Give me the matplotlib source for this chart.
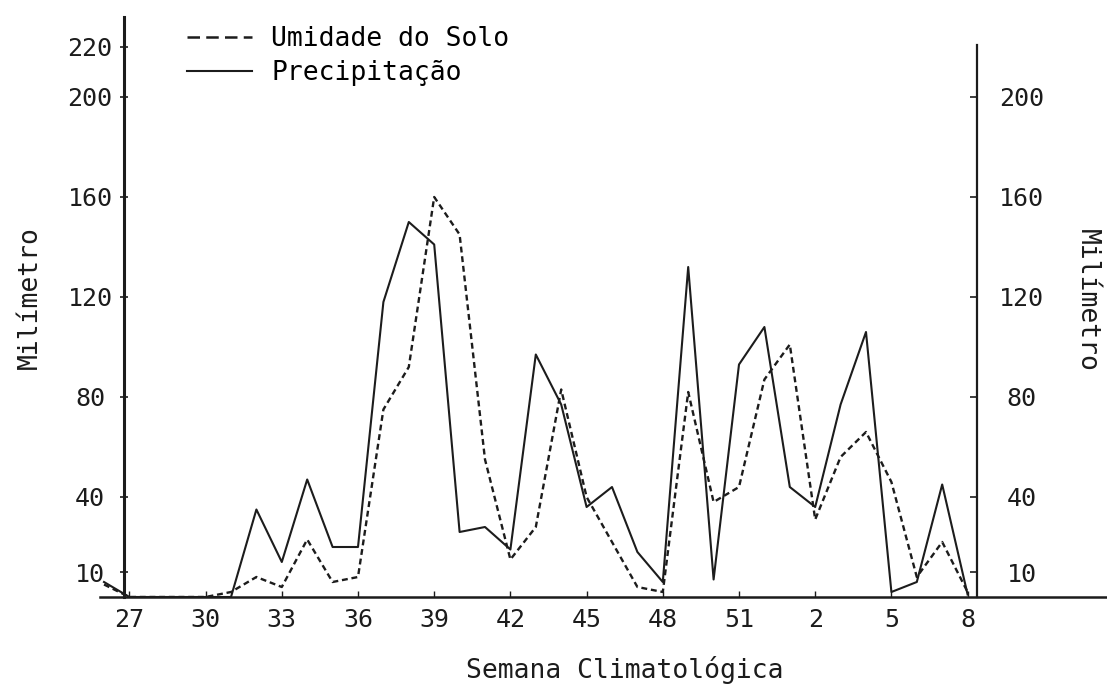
import matplotlib.pyplot as plt
from matplotlib.lines import Line2D

# semanas climatologicas (26 .. 52, depois 1 .. 8)
semanas = list(range(26, 53)) + list(range(1, 9))

# valores (mm)
precipitacao = [6, 0, 0, 0, 0, 0, 35, 14, 47, 20, 20, 118, 150, 141, 26, 28, 19,
                97, 77, 36, 44, 18, 6, 132, 7, 93, 108, 44, 36, 77, 106, 2, 6, 45, 1]
umidade_solo = [5, 0, 0, 0, 0, 2, 8, 4, 23, 6, 8, 75, 92, 160, 145, 55, 15,
                28, 83, 40, 22, 4, 2, 82, 38, 44, 87, 101, 31, 56, 66, 46, 8, 22, 2]

ticks_esq = [10, 40, 80, 120, 160, 200, 220]
ticks_dir = [10, 40, 80, 120, 160, 200]

plt.rcParams['font.family'] = 'DejaVu Sans Mono'
cor = '#1c1c1c'

W, H = 1107, 686
fig = plt.figure(figsize=(W / 100, H / 100), dpi=100)

# eixo principal: vai de x=100 px ate a borda, y de 17 a 597 px
ax = fig.add_axes([100 / W, (H - 597) / H, 1 - 100 / W, 580 / H])
x0, dx = 104, 25.4  # posicao em px da semana 26 e largura de uma semana
ax.set_xlim((100 - x0) / dx, (W - x0) / dx)
ax.set_ylim(0, 232)

idx = list(range(len(semanas)))
ax.plot(idx, precipitacao, color=cor, lw=1.5)
ax.plot(idx, umidade_solo, color=cor, lw=1.7, ls=(0, (2.5, 1.6)))

x_esq = (124 - x0) / dx
x_dir = (977 - x0) / dx

ax.spines['top'].set_visible(False)
ax.spines['right'].set_visible(False)
ax.spines['left'].set_position(('data', x_esq))
ax.spines['left'].set_linewidth(2.2)
ax.spines['left'].set_color(cor)
ax.spines['bottom'].set_linewidth(1.8)
ax.spines['bottom'].set_color(cor)

ax.set_yticks(ticks_esq)
ax.tick_params(axis='y', direction='inout', length=6, width=1.2, pad=21.5,
               labelsize=18, colors=cor)
for t in ax.get_yticklabels():
    t.set_ha('center')

pos_x = idx[1::3]
ax.set_xticks(pos_x)
ax.set_xticklabels([str(semanas[i]) for i in pos_x])
ax.tick_params(axis='x', direction='in', length=4, width=1.0, pad=8,
               labelsize=18, colors=cor)

# eixo da direita
ax2 = ax.twinx()
ax2.set_ylim(0, 232)
for s in ['top', 'left', 'bottom']:
    ax2.spines[s].set_visible(False)
ax2.spines['right'].set_position(('data', x_dir))
ax2.spines['right'].set_bounds(0, 221)
ax2.spines['right'].set_linewidth(1.6)
ax2.spines['right'].set_color(cor)
ax2.set_yticks(ticks_dir)
ax2.tick_params(axis='y', direction='in', length=5, width=1.2, pad=32,
                labelsize=18, colors=cor)
for t in ax2.get_yticklabels():
    t.set_ha('center')

# legenda
handles = [Line2D([], [], color=cor, lw=1.8, ls=(0, (5, 2.5))),
           Line2D([], [], color=cor, lw=1.5)]
ax.legend(handles, ['Umidade do Solo', 'Precipitação'], loc='upper left',
          bbox_to_anchor=(187 / W, 1 - 26 / H), bbox_transform=fig.transFigure,
          frameon=False, fontsize=19, borderpad=0, borderaxespad=0,
          handlelength=2.45, handletextpad=0.75, labelspacing=0.3)

fig.text(625 / W, 1 - 670 / H, 'Semana Climatológica', ha='center', va='center',
         fontsize=19, color=cor)
fig.text(30 / W, 1 - 298 / H, 'Milímetro', rotation=90, ha='center', va='center',
         fontsize=19, color=cor)
fig.text(1087 / W, 1 - 300 / H, 'Milímetro', rotation=270, ha='center', va='center',
         fontsize=19, color=cor)

fig.savefig('out.png', dpi=100)
